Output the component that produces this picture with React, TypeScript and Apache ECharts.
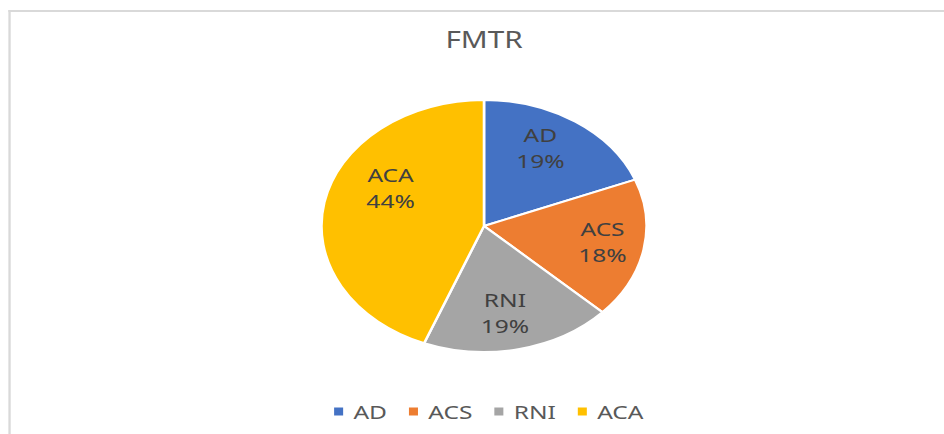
import React, { useEffect, useRef } from "react";
import * as echarts from "echarts";

const categories = ["AD", "ACS", "RNI", "ACA"];
const values = [19, 18, 19, 44];
const colors = ["#4472C4", "#ED7D31", "#A5A5A5", "#FFC000"];
const titleText = "FMTR";

// label placement tweaks (best-fit style): [angle shift in degrees, radius fraction]
const labelTweaks = [
  [-5, 0.71],
  [-1, 0.74],
  [2, 0.7],
  [17, 0.65],
];

const SX = 1.29;
const PAGE_W = 944;
const H = 434;
const W = Math.round(PAGE_W / SX);
const CX = 484 / SX;
const CY = 226;
const R = 126;

export default function App() {
  const ref = useRef<HTMLDivElement>(null);
  useEffect(() => {
    if (!ref.current) return;
    const chart = echarts.init(ref.current, null, { renderer: "svg" });
    const total = values.reduce((a, b) => a + b, 0);
    const option = {
      animation: false,
      backgroundColor: "#ffffff",
      color: colors,
      title: {
        text: titleText,
        left: CX,
        textAlign: "center",
        top: 28,
        padding: 0,
        textStyle: {
          fontFamily: "Noto Sans",
          fontSize: 23,
          fontWeight: "normal",
          color: "#595959",
        },
      },
      legend: {
        data: categories,
        left: 257,
        top: 402,
        padding: 0,
        icon: "rect",
        itemWidth: 9,
        itemHeight: 10,
        itemGap: 15,
        textStyle: {
          fontFamily: "Noto Sans",
          fontSize: 19,
          color: "#595959",
          padding: [0, 0, 0, 2],
        },
      },
      graphic: [
        { type: "rect", shape: { x: 6.5, y: 10, width: W, height: 2 }, style: { fill: "#d9d9d9" }, silent: true },
        { type: "rect", shape: { x: 6.5, y: 10, width: 1.8, height: H }, style: { fill: "#d9d9d9" }, silent: true },
      ],
      series: [
        {
          type: "pie",
          center: [CX, CY],
          radius: [0, R],
          startAngle: 90,
          clockwise: true,
          percentPrecision: 0,
          itemStyle: { borderColor: "#ffffff", borderWidth: 2 },
          label: {
            show: true,
            position: "inside",
            formatter: "{b}\n{d}%",
            fontFamily: "Noto Sans",
            fontSize: 19,
            lineHeight: 26,
            color: "#404040",
          },
          labelLine: { show: false },
          emphasis: { disabled: true },
          labelLayout: (params: any) => {
            const i = params.dataIndex;
            let cum = 0;
            for (let k = 0; k < i; k++) cum += values[k];
            const m = (cum + values[i] / 2) / total;
            const th = m * Math.PI * 2 + (labelTweaks[i][0] * Math.PI) / 180;
            const rr = R * labelTweaks[i][1];
            return {
              x: CX + rr * Math.sin(th),
              y: CY - rr * Math.cos(th),
              align: "center",
              verticalAlign: "middle",
            };
          },
          data: categories.map((name, i) => ({ name, value: values[i] })),
        },
      ],
    };
    chart.setOption(option as any);
    return () => chart.dispose();
  }, []);
  return (
    <div
      ref={ref}
      style={{
        position: "fixed",
        left: 0,
        top: 0,
        width: W,
        height: H,
        transform: `scaleX(${SX})`,
        transformOrigin: "0 0",
      }}
    />
  );
}
